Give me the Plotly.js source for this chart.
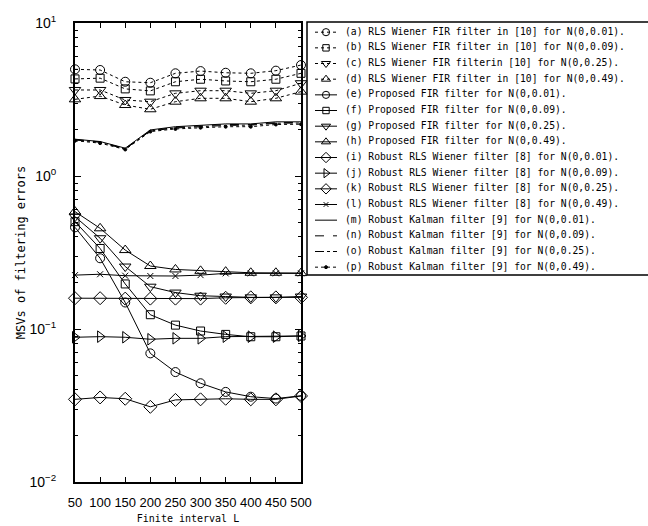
<!DOCTYPE html>
<html>
<head>
<meta charset="utf-8">
<script src="https://cdn.plot.ly/plotly-3.0.1.min.js"></script>
<style>html,body{margin:0;padding:0;background:#fff;}#chart{width:648px;height:526px;}</style>
</head>
<body>
<div id="chart"></div>
<script>
// ---- data ----
const L = [50, 100, 150, 200, 250, 300, 350, 400, 450, 500];

// RLS Wiener FIR filter in [10]
const rlsFir001 = [4.98, 4.93, 4.13, 4.07, 4.69, 4.85, 4.73, 4.69, 4.88, 5.31];
const rlsFir009 = [4.31, 4.36, 3.71, 3.60, 4.13, 4.29, 4.18, 4.13, 4.29, 4.69];
const rlsFir025 = [3.65, 3.65, 3.14, 3.06, 3.47, 3.61, 3.61, 3.47, 3.61, 4.04];
const rlsFir049 = [3.17, 3.33, 2.91, 2.73, 3.06, 3.22, 3.22, 3.06, 3.22, 3.56];

// Proposed FIR filter
const propFir001 = [0.462, 0.290, 0.149, 0.0693, 0.0523, 0.0442, 0.0388, 0.0361, 0.0351, 0.0366];
const propFir009 = [0.503, 0.336, 0.197, 0.124, 0.106, 0.097, 0.0922, 0.089, 0.089, 0.090];
const propFir025 = [0.542, 0.392, 0.256, 0.189, 0.173, 0.165, 0.163, 0.161, 0.161, 0.163];
const propFir049 = [0.585, 0.455, 0.328, 0.258, 0.245, 0.240, 0.237, 0.233, 0.233, 0.232];

// Robust RLS Wiener filter [8]
const robRls001 = [0.0347, 0.0357, 0.0350, 0.0310, 0.0344, 0.0347, 0.0350, 0.0347, 0.0347, 0.0365];
const robRls009 = [0.0883, 0.0891, 0.0883, 0.0857, 0.0869, 0.0869, 0.0891, 0.0891, 0.0891, 0.0901];
const robRls025 = [0.159, 0.159, 0.158, 0.158, 0.158, 0.158, 0.160, 0.161, 0.161, 0.161];
const robRls049 = [0.225, 0.228, 0.223, 0.222, 0.222, 0.225, 0.231, 0.231, 0.231, 0.231];

// Robust Kalman filter [9]
const kal001 = [1.74, 1.68, 1.52, 2.00, 2.10, 2.15, 2.19, 2.19, 2.26, 2.26];
const kal009 = [1.73, 1.67, 1.51, 1.98, 2.08, 2.13, 2.17, 2.17, 2.23, 2.24];
const kal025 = [1.72, 1.66, 1.50, 1.97, 2.06, 2.11, 2.14, 2.15, 2.21, 2.22];
const kal049 = [1.70, 1.64, 1.49, 1.95, 2.03, 2.07, 2.10, 2.10, 2.17, 2.18];

const legendLabels = [
  "(a) RLS Wiener FIR filter in [10] for N(0,0.01).",
  "(b) RLS Wiener FIR filter in [10] for N(0,0.09).",
  "(c) RLS Wiener FIR filterin [10] for N(0,0.25).",
  "(d) RLS Wiener FIR filter in [10] for N(0,0.49).",
  "(e) Proposed FIR filter for N(0,0.01).",
  "(f) Proposed FIR filter for N(0,0.09).",
  "(g) Proposed FIR filter for N(0,0.25).",
  "(h) Proposed FIR filter for N(0,0.49).",
  "(i) Robust RLS Wiener filter [8] for N(0,0.01).",
  "(j) Robust RLS Wiener filter [8] for N(0,0.09).",
  "(k) Robust RLS Wiener filter [8] for N(0,0.25).",
  "(l) Robust RLS Wiener filter [8] for N(0,0.49).",
  "(m) Robust Kalman filter [9] for N(0,0.01).",
  "(n) Robust Kalman filter [9] for N(0,0.09).",
  "(o) Robust Kalman filter [9] for N(0,0.25).",
  "(p) Robust Kalman filter [9] for N(0,0.49)."
];

const yTickVals = [0.01, 0.1, 1, 10];
const yTickText = ["10<sup>\u22122</sup>", "10<sup>\u22121</sup>", "10<sup>0</sup>", "10<sup>1</sup>"];

// ---- styles ----
const series = [
  {y: rlsFir001, dash: 'dot',   sym: 'circle-open',         size: 9},
  {y: rlsFir009, dash: 'dot',   sym: 'square-open',         size: 8},
  {y: rlsFir025, dash: 'dot',   sym: 'triangle-down-open',  size: 10},
  {y: rlsFir049, dash: 'dot',   sym: 'triangle-up-open',    size: 10},
  {y: propFir001, dash: 'solid', sym: 'circle-open',        size: 9},
  {y: propFir009, dash: 'solid', sym: 'square-open',        size: 8},
  {y: propFir025, dash: 'solid', sym: 'triangle-down-open', size: 10},
  {y: propFir049, dash: 'solid', sym: 'triangle-up-open',   size: 10},
  {y: robRls001, dash: 'solid', sym: 'diamond-open',        size: 10},
  {y: robRls009, dash: 'solid', sym: 'triangle-right-open', size: 10},
  {y: robRls025, dash: 'solid', sym: 'diamond-open',        size: 10},
  {y: robRls049, dash: 'solid', sym: 'x-thin-open',         size: 6},
  {y: kal001, dash: 'solid',   sym: null, size: 0},
  {y: kal009, dash: 'dash',    sym: null, size: 0},
  {y: kal025, dash: 'dashdot', sym: null, size: 0},
  {y: kal049, dash: 'dot',     sym: 'circle', size: 3}
];

function markerOf(s, scale) {
  return {symbol: s.sym, size: Math.max(3, s.size * scale), color: '#000', line: {color: '#000', width: 1}};
}

const traces = [];
series.forEach(function (s) {
  const t = {
    x: L, y: s.y, type: 'scatter',
    mode: s.sym ? 'lines+markers' : 'lines',
    line: {color: '#000', width: 1, dash: s.dash},
    cliponaxis: false, showlegend: false, hoverinfo: 'skip',
    xaxis: 'x', yaxis: 'y'
  };
  if (s.sym) t.marker = markerOf(s, 1);
  traces.push(t);
});

// custom legend drawn in a second subplot (rows indexed by entry)
series.forEach(function (s, i) {
  traces.push({
    x: [8, 30], y: [i, i], type: 'scatter', mode: 'lines',
    line: {color: '#000', width: 1, dash: s.dash},
    showlegend: false, hoverinfo: 'skip', xaxis: 'x2', yaxis: 'y2'
  });
  if (s.sym) {
    traces.push({
      x: [19], y: [i], type: 'scatter', mode: 'markers',
      marker: markerOf(s, 0.8),
      showlegend: false, hoverinfo: 'skip', xaxis: 'x2', yaxis: 'y2'
    });
  }
});
traces.push({
  x: legendLabels.map(function () { return 38; }),
  y: legendLabels.map(function (_, i) { return i; }),
  text: legendLabels, type: 'scatter', mode: 'text', textposition: 'middle right',
  textfont: {family: 'DejaVu Sans Mono', size: 9.7, color: '#000'},
  showlegend: false, hoverinfo: 'skip', cliponaxis: false, xaxis: 'x2', yaxis: 'y2'
});

// minor ticks 2..9 per decade
const minorVals = [];
for (let e = -2; e < 1; e++) for (let m = 2; m <= 9; m++) minorVals.push(m * Math.pow(10, e));

const W = 648, H = 526;
const mL = 75, mR = 0, mT = 22, mB = 44;
const pw = W - mL - mR, ph = H - mT - mB;
const plotRightPx = 301, legLeftPx = 307, legBottomPx = 275;

const layout = {
  width: W, height: H,
  margin: {l: mL, r: mR, t: mT, b: mB, pad: 0},
  paper_bgcolor: '#fff', plot_bgcolor: 'rgba(0,0,0,0)',
  showlegend: false,
  font: {family: 'Liberation Sans, Arial, sans-serif', color: '#000'},
  xaxis: {
    domain: [0, (plotRightPx - mL) / pw],
    range: [50, 500], tickvals: L, ticktext: L.map(String),
    ticks: 'inside', ticklen: 5, tickwidth: 1, tickcolor: '#000',
    showline: true, linewidth: 2, linecolor: '#000', mirror: 'allticks',
    showgrid: false, zeroline: false,
    tickfont: {family: 'Liberation Sans Narrow, Liberation Sans, Arial', size: 13},
    ticklabelstandoff: 7,
    title: {text: 'Finite interval L', font: {family: 'DejaVu Sans Mono', size: 10}, standoff: 6}
  },
  yaxis: {
    domain: [0, (ph - 1) / ph],
    type: 'log', range: [-2, 1],
    tickmode: 'array', tickvals: yTickVals, ticktext: yTickText,
    ticks: 'inside', ticklen: 6, tickwidth: 1, tickcolor: '#000',
    minor: {tickmode: 'array', tickvals: minorVals, ticks: 'inside', ticklen: 3, tickcolor: '#000', showgrid: false},
    showline: true, linewidth: 2, linecolor: '#000', mirror: 'allticks',
    showgrid: false, zeroline: false,
    tickfont: {family: 'Liberation Sans, Arial', size: 14},
    ticklabelstandoff: 14,
    title: {text: 'MSVs of filtering errors', font: {family: 'DejaVu Sans Mono', size: 12}, standoff: 1}
  },
  xaxis2: {
    domain: [(legLeftPx - mL) / pw, 1], range: [0, W - legLeftPx],
    visible: false, fixedrange: true
  },
  yaxis2: {
    domain: [(H - mB - legBottomPx) / ph, 1], range: [15.5, -0.65],
    visible: false, fixedrange: true
  },
  shapes: [{
    type: 'rect', xref: 'paper', yref: 'paper',
    x0: (legLeftPx - mL) / pw, x1: 1.02,
    y0: (H - mB - legBottomPx) / ph, y1: 1,
    line: {color: '#000', width: 1.5}, fillcolor: 'rgba(0,0,0,0)', layer: 'above'
  }]
};

Plotly.newPlot('chart', traces, layout, {staticPlot: true, displayModeBar: false});
</script>
</body>
</html>
